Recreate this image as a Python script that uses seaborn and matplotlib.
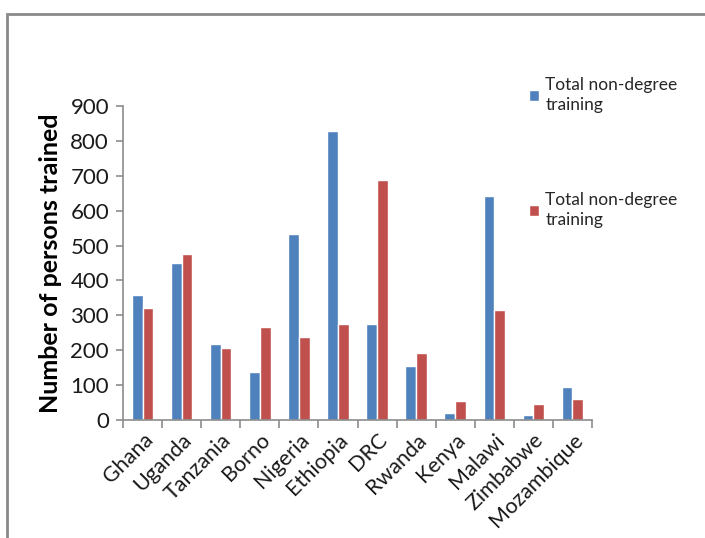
import matplotlib
matplotlib.use("Agg")
import matplotlib.pyplot as plt
import seaborn as sns
import pandas as pd
from matplotlib.patches import Rectangle

countries = ["Ghana", "Uganda", "Tanzania", "Borno", "Nigeria", "Ethiopia",
             "DRC", "Rwanda", "Kenya", "Malawi", "Zimbabwe", "Mozambique"]
series_a = [358, 450, 217, 137, 534, 827, 276, 155, 21, 642, 14, 94]
series_b = [321, 477, 207, 266, 238, 276, 689, 193, 54, 315, 45, 61]
legend_labels = ["Total non-degree\ntraining", "Total non-degree\ntraining"]
y_ticks = [0, 100, 200, 300, 400, 500, 600, 700, 800, 900]

df = pd.DataFrame({
    "country": countries * 2,
    "value": series_a + series_b,
    "series": ["a"] * len(countries) + ["b"] * len(countries),
})

sns.set_theme(style="white")
plt.rcParams["font.family"] = ["Lato", "DejaVu Sans"]

fig = plt.figure(figsize=(7.05, 5.38), dpi=100)
ax = fig.add_axes([123 / 705, 1 - 420 / 538, (592 - 123) / 705, (420 - 106) / 538])

sns.barplot(data=df, x="country", y="value", hue="series", order=countries,
            hue_order=["a", "b"], palette=["#4F81BD", "#C0504D"],
            width=0.55, saturation=1, ax=ax, legend=True)

ax.set_ylim(0, 900)
ax.set_yticks(y_ticks)
ax.set_xlim(-0.5, len(countries) - 0.5)
ax.set_xlabel("")
ax.set_ylabel("Number of persons trained", fontsize=18, fontweight="bold",
              color="black", labelpad=6)

for side in ["top", "right"]:
    ax.spines[side].set_visible(False)
for side in ["left", "bottom"]:
    ax.spines[side].set_color("#8c8c8c")
    ax.spines[side].set_linewidth(1.2)

ax.tick_params(axis="y", labelsize=16, length=5, color="#8c8c8c", width=1.2,
               direction="out", left=True, labelcolor="#1a1a1a", pad=5)
ax.set_xticks([i - 0.5 for i in range(len(countries) + 1)], minor=True)
ax.tick_params(axis="x", which="minor", length=6, color="#8c8c8c", width=1.2,
               direction="out", bottom=True)
ax.tick_params(axis="x", which="major", length=0, labelsize=15.5, pad=7,
               labelcolor="#1a1a1a")
for lbl in ax.get_xticklabels():
    lbl.set_rotation(45)
    lbl.set_ha("right")
    lbl.set_rotation_mode("anchor")

handles, _ = ax.get_legend_handles_labels()
leg = ax.legend(handles, legend_labels, loc="upper left",
                bbox_to_anchor=(522 / 705, 1 - 70 / 538), bbox_transform=fig.transFigure,
                frameon=False, fontsize=12.5, labelspacing=4.5, handlelength=0.6,
                handleheight=0.6, handletextpad=0.35, borderaxespad=0)
for t in leg.get_texts():
    t.set_linespacing(1.35)

fig.patches.append(Rectangle((6.5 / 705, -0.01), 1.0, 1 - 13.5 / 538 + 0.01,
                             transform=fig.transFigure, fill=False,
                             edgecolor="#8a8a8a", linewidth=2))

fig.savefig("out.png", dpi=100, facecolor="white")
